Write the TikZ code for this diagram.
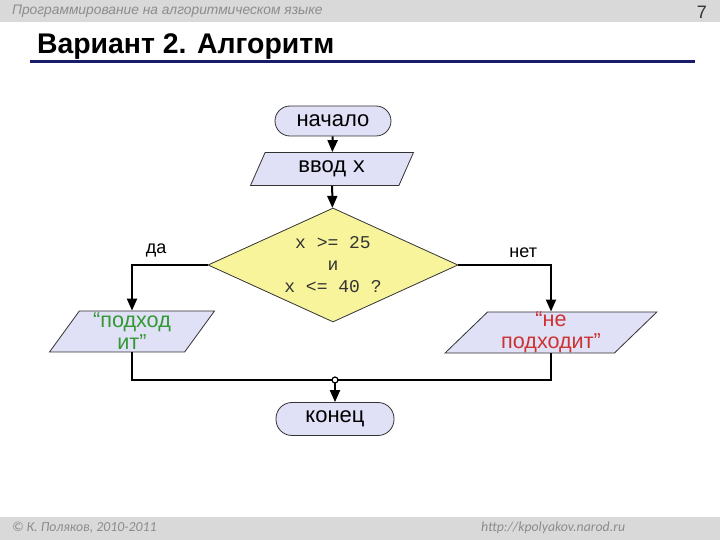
\documentclass[tikz,border=0pt]{standalone}
\usepackage{fontspec}
\setmainfont{Liberation Sans}
\setmonofont{Liberation Mono}
\newfontfamily\footfont{Carlito}
\usepackage{xcolor}
\definecolor{barcol}{HTML}{D9D9D9}
\definecolor{headtxt}{HTML}{8C8C8C}
\definecolor{rulecol}{HTML}{1B1B6B}
\definecolor{boxfill}{HTML}{E0E0F6}
\definecolor{condfill}{HTML}{F8F49C}
\definecolor{yescol}{HTML}{339933}
\definecolor{nocol}{HTML}{CC3333}
\definecolor{edgecol}{HTML}{333333}
\usetikzlibrary{arrows.meta, shapes.geometric}

\begin{document}
\begin{tikzpicture}[x=0.5pt, y=-0.5pt,
  term/.style={draw=edgecol, fill=boxfill, rounded corners=7.5pt,
        minimum width=58pt, minimum height=15pt, inner sep=0pt,
        font=\fontsize{11}{12}\selectfont},
  io/.style={draw=edgecol, fill=boxfill, trapezium, trapezium stretches body,
        inner sep=0pt, align=center, font=\fontsize{11}{10.5}\selectfont},
  cond/.style={draw=edgecol, fill=condfill, diamond, aspect=2.2, inner sep=0pt,
        minimum width=125pt, minimum height=57pt, align=center, text=edgecol,
        font=\ttfamily\fontsize{9}{11}\selectfont},
  flow/.style={-{Triangle[length=6pt, width=5pt]}, line width=1pt},
  link/.style={line width=1pt},
  joint/.style={circle, draw, fill=white, line width=0.6pt, inner sep=0pt,
        minimum size=3pt}]
  \useasboundingbox (0,0) rectangle (720,540);

  % header and footer
  \fill[barcol] (0,0) rectangle (720,22);
  \fill[barcol] (0,517) rectangle (720,540);
  \node[anchor=west, text=headtxt, font=\itshape\fontsize{6.9}{8}\selectfont] (head)
        at (5,11) {Программирование на алгоритмическом языке};
  \node[anchor=east, text=edgecol, font=\fontsize{9}{10}\selectfont] (pagenum)
        at (714,12) {7};
  \node[anchor=base west, font=\bfseries\fontsize{14.2}{17}\selectfont] (title)
        at (30,54) {Вариант 2. Алгоритм};
  \draw[rulecol, line width=1.5pt] (30,62) -- (695,62);
  \node[anchor=west, text=headtxt, font=\footfont\itshape\fontsize{6.9}{8}\selectfont] (copy)
        at (5,528) {© К. Поляков, 2010-2011};
  \node[anchor=west, text=headtxt, font=\footfont\itshape\fontsize{6.9}{8}\selectfont] (url)
        at (474,528) {http://kpolyakov.narod.ru};

  % flowchart
  \node[term] (start) at (333,121) {начало};
  \node[io, trapezium left angle=48, trapezium right angle=132,
        minimum width=81.5pt, minimum height=16.5pt] (input)
        at (332,169) {ввод \texttt{x}};
  \node[cond] (check) at (333,265) {x >= 25\\и\\x <= 40 ?};
  \node[io, trapezium left angle=51, trapezium right angle=129,
        minimum width=82.5pt, minimum height=20.5pt, text=yescol,
        font=\fontsize{10.8}{11}\selectfont] (yes)
        at (132,331.5) {“подход\\ит”};
  \node[io, trapezium left angle=44, trapezium right angle=136,
        minimum width=106pt, minimum height=20.5pt, text=nocol,
        font=\fontsize{10.8}{11}\selectfont] (no)
        at (551,332.5) {“не\\подходит”};
  \node[term, minimum width=59pt, minimum height=16.5pt, rounded corners=8pt] (stop)
        at (335,419) {конец};
  \coordinate (join) at (335,380);

  \draw[flow] (start) -- (input);
  \draw[flow] (input) -- (check);
  \draw[flow] (check.west) -| (yes.north)
        node[pos=0.34, above, font=\fontsize{9}{10}\selectfont] (yeslbl) {да};
  \draw[flow] (check.east) -| (no.north)
        node[pos=0.35, above, font=\fontsize{9}{10}\selectfont] (nolbl) {нет};
  \draw[link] (yes.south) |- (join);
  \draw[link] (no.south) |- (join);
  \draw[flow] (join) -- (stop);
  \node[joint] (joindot) at (join) {};
\end{tikzpicture}
\end{document}
